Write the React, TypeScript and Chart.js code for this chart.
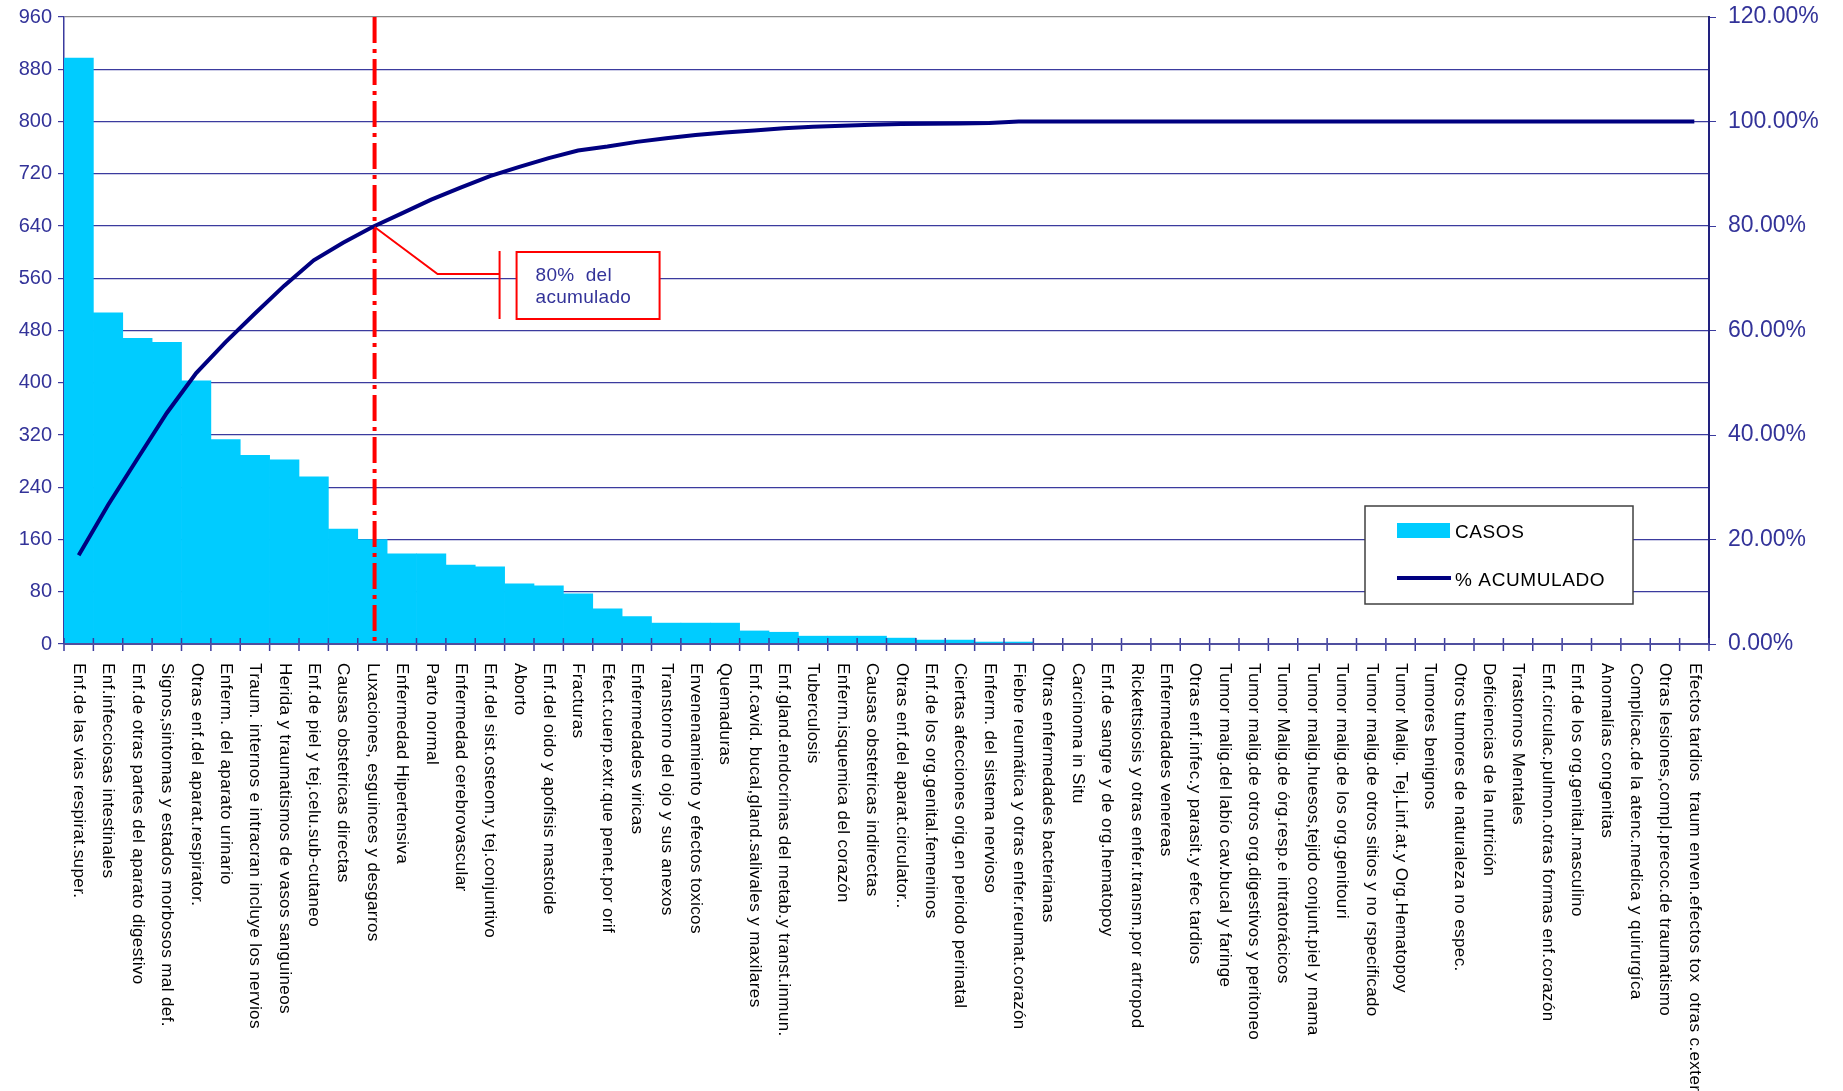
import { useEffect, useRef } from 'react';
import { Chart, registerables } from 'chart.js';

Chart.register(...registerables);

const categories: string[] = [
  'Enf.de las vias respirat.super.',
  'Enf.infecciosas intestinales',
  'Enf.de otras partes del aparato digestivo',
  'Signos,sintomas y estados morbosos mal def.',
  'Otras enf.del aparat.respirator.',
  'Enferm. del aparato urinario',
  'Traum. internos e intracran incluye los nervios',
  'Herida y traumatismos de vasos sanguineos',
  'Enf.de piel y tej.celu.sub-cutaneo',
  'Causas obstetricas directas',
  'Luxaciones, esguinces y desgarros',
  'Enfermedad Hipertensiva',
  'Parto normal',
  'Enfermedad cerebrovascular',
  'Enf.del sist.osteom.y tej.conjuntivo',
  'Aborto',
  'Enf.del oido y apofisis mastoide',
  'Fracturas',
  'Efect.cuerp.extr.que penet.por orif',
  'Enfermedades viricas',
  'Transtorno del ojo y sus anexos',
  'Envenenamiento y efectos toxicos',
  'Quemaduras',
  'Enf.cavid. bucal,gland.salivales y maxilares',
  'Enf.gland.endocrinas del metab.y transt.inmun.',
  'Tuberculosis',
  'Enferm.isquemica del corazón',
  'Causas obstetricas indirectas',
  'Otras enf.del aparat.circulator..',
  'Enf.de los org.genital.femeninos',
  'Ciertas afecciones orig.en periodo perinatal',
  'Enferm. del sistema nervioso',
  'Fiebre reumática y otras enfer.reumat.corazón',
  'Otras enfermedades bacterianas',
  'Carcinoma in Situ',
  'Enf.de sangre y de org.hematopoy',
  'Rickettsiosis y otras enfer.transm.por artropod',
  'Enfermedades venereas',
  'Otras enf.infec.y parasit.y efec tardios',
  'Tumor malig.del labío cav.bucal y faringe',
  'Tumor malig.de otros org.digestivos y peritoneo',
  'Tumor Malig.de órg.resp.e intratorácicos',
  'Tumor malig.huesos,tejido conjunt.piel y mama',
  'Tumor malig.de los org.genitouri',
  'Tumor malig.de otros sitios y no rspecificado',
  'Tumor Malig. Tej.Linf.at.y Org.Hematopoy',
  'Tumores benignos',
  'Otros tumores de naturaleza no espec.',
  'Deficiencias de la nutrición',
  'Trastornos Mentales',
  'Enf.circulac.pulmon.otras formas enf.corazón',
  'Enf.de los org.genital.masculino',
  'Anomalías congenitas',
  'Complicac.de la atenc.medica y quirurgíca',
  'Otras lesiones,compl.precoc.de traumatismo',
  'Efectos tardios  traum enven.efectos tox  otras c.exter',
];

const casos: number[] = [
  897, 507, 468, 462, 403, 313, 289, 282, 256, 176,
  160, 138, 138, 121, 118, 92, 89, 77, 54, 42,
  32, 32, 32, 20, 18, 12, 12, 12, 9, 6,
  6, 3, 3, 0, 0, 0, 0, 0, 0, 0,
  0, 0, 0, 0, 0, 0, 0, 0, 0, 0,
  0, 0, 0, 0, 0, 0,
];

const acumulado: number[] = [
  16.99, 26.6, 35.46, 44.21, 51.85, 57.78, 63.25, 68.59, 73.44, 76.78,
  79.81, 82.42, 85.04, 87.33, 89.56, 91.31, 92.99, 94.45, 95.2, 96.1,
  96.8, 97.4, 97.9, 98.3, 98.7, 99.0, 99.2, 99.4, 99.5, 99.55,
  99.6, 99.7, 100, 100, 100, 100, 100, 100, 100, 100,
  100, 100, 100, 100, 100, 100, 100, 100, 100, 100,
  100, 100, 100, 100, 100, 100,
];

const casosAxis = { min: 0, max: 960, step: 80 };
const pctAxis = { min: 0, max: 120, step: 20 };
const paretoThreshold = 80;
const calloutText = ['80%  del', 'acumulado'];
const seriesNames = ['CASOS', '% ACUMULADO'];

const FONT = '"Liberation Sans", Arial, Helvetica, sans-serif';
const BAR_COLOR = '#00CCFF';
const LINE_COLOR = '#000080';
const AXIS_TEXT = '#333399';
const GRID_COLOR = '#3B3B9E';

function thresholdPosition(): number {
  for (let i = 0; i < acumulado.length; i++) {
    if (acumulado[i] >= paretoThreshold) {
      if (i === 0) return 0;
      const prev = acumulado[i - 1];
      return i - 1 + (paretoThreshold - prev) / (acumulado[i] - prev);
    }
  }
  return acumulado.length - 1;
}

const overlayPlugin = {
  id: 'paretoOverlay',
  afterDatasetDraw(chart: any, args: any) {
    if (args.meta.type !== 'bar') return;
    const ctx = chart.ctx as CanvasRenderingContext2D;
    const x = chart.scales.x;
    const area = chart.chartArea;
    ctx.save();
    ctx.strokeStyle = GRID_COLOR;
    ctx.lineWidth = 1.5;
    ctx.beginPath();
    for (let i = 0; i <= categories.length; i++) {
      const px = x.getPixelForValue(i - 0.5);
      ctx.moveTo(px, area.bottom - 6);
      ctx.lineTo(px, area.bottom + 7);
    }
    ctx.stroke();
    ctx.strokeStyle = '#4F4F9F';
    ctx.lineWidth = 2;
    ctx.beginPath();
    ctx.moveTo(area.left, area.bottom);
    ctx.lineTo(area.right, area.bottom);
    ctx.stroke();
    const cx = x.getPixelForValue(thresholdPosition());
    ctx.strokeStyle = '#FF0000';
    ctx.lineWidth = 4;
    ctx.setLineDash([26, 6, 4, 6]);
    ctx.beginPath();
    ctx.moveTo(cx, area.top);
    ctx.lineTo(cx, area.bottom);
    ctx.stroke();
    ctx.restore();
  },
  afterDraw(chart: any) {
    const ctx = chart.ctx as CanvasRenderingContext2D;
    const x = chart.scales.x;
    const y1 = chart.scales.y1;
    const area = chart.chartArea;

    ctx.save();
    ctx.font = `17px ${FONT}`;
    (ctx as any).letterSpacing = '0.4px';
    ctx.fillStyle = '#000000';
    ctx.textAlign = 'left';
    ctx.textBaseline = 'middle';
    categories.forEach((label, i) => {
      const px = x.getPixelForValue(i);
      ctx.save();
      ctx.translate(px, area.bottom + 19);
      ctx.rotate(Math.PI / 2);
      ctx.fillText(label, 0, 0);
      ctx.restore();
    });
    ctx.restore();

    const ax = x.getPixelForValue(thresholdPosition());
    const ay = y1.getPixelForValue(paretoThreshold);
    ctx.save();
    ctx.strokeStyle = '#FF0000';
    ctx.lineWidth = 2;
    ctx.beginPath();
    ctx.moveTo(ax, ay + 1);
    ctx.lineTo(ax + 63, ay + 48);
    ctx.lineTo(ax + 125, ay + 48);
    ctx.stroke();
    ctx.beginPath();
    ctx.moveTo(ax + 125, ay + 25);
    ctx.lineTo(ax + 125, ay + 93);
    ctx.stroke();
    ctx.fillStyle = '#FFFFFF';
    ctx.fillRect(ax + 142, ay + 26, 143, 67);
    ctx.strokeRect(ax + 142, ay + 26, 143, 67);
    ctx.fillStyle = AXIS_TEXT;
    ctx.font = `19px ${FONT}`;
    (ctx as any).letterSpacing = '0.3px';
    ctx.textAlign = 'left';
    ctx.textBaseline = 'alphabetic';
    ctx.fillText(calloutText[0], ax + 161, ay + 55);
    ctx.fillText(calloutText[1], ax + 161, ay + 77);
    ctx.restore();

    const lx = area.right - 344;
    const ly = area.bottom - 138;
    ctx.save();
    ctx.fillStyle = '#FFFFFF';
    ctx.fillRect(lx, ly, 268, 98);
    ctx.strokeStyle = '#404040';
    ctx.lineWidth = 1.5;
    ctx.strokeRect(lx, ly, 268, 98);
    ctx.fillStyle = BAR_COLOR;
    ctx.fillRect(lx + 32, ly + 17, 53, 15);
    ctx.strokeStyle = LINE_COLOR;
    ctx.lineWidth = 4;
    ctx.beginPath();
    ctx.moveTo(lx + 32, ly + 72);
    ctx.lineTo(lx + 86, ly + 72);
    ctx.stroke();
    ctx.fillStyle = '#000000';
    ctx.font = `19px ${FONT}`;
    (ctx as any).letterSpacing = '0.6px';
    ctx.textBaseline = 'alphabetic';
    ctx.fillText(seriesNames[0], lx + 90, ly + 32);
    ctx.fillText(seriesNames[1], lx + 90, ly + 80);
    ctx.restore();
  },
};

export default function App() {
  const canvasRef = useRef<HTMLCanvasElement | null>(null);

  useEffect(() => {
    const canvas = canvasRef.current;
    if (!canvas) return;
    const chart = new Chart(canvas, {
      type: 'bar',
      data: {
        labels: categories,
        datasets: [
          {
            type: 'bar',
            label: seriesNames[0],
            data: casos,
            backgroundColor: BAR_COLOR,
            borderWidth: 0,
            barPercentage: 1,
            categoryPercentage: 1,
            yAxisID: 'y',
            order: 2,
          },
          {
            type: 'line',
            label: seriesNames[1],
            data: acumulado,
            borderColor: LINE_COLOR,
            backgroundColor: LINE_COLOR,
            borderWidth: 4,
            pointRadius: 0,
            tension: 0,
            yAxisID: 'y1',
            order: 1,
          },
        ],
      },
      options: {
        animation: false,
        responsive: false,
        devicePixelRatio: 1,
        layout: { padding: { top: 17, left: 0, right: 0, bottom: 0 } },
        plugins: {
          legend: { display: false },
          tooltip: { enabled: false },
        },
        scales: {
          x: {
            type: 'category',
            offset: true,
            grid: { display: false, offset: true },
            border: { display: false },
            ticks: { display: false },
            afterFit: (scale: any) => {
              scale.height = 447;
              scale.paddingLeft = 0;
              scale.paddingRight = 0;
            },
          },
          y: {
            position: 'left',
            min: casosAxis.min,
            max: casosAxis.max,
            ticks: {
              stepSize: casosAxis.step,
              color: AXIS_TEXT,
              font: { family: FONT, size: 20 },
              padding: 6,
            },
            grid: {
              color: (c: any) => (c.tick && c.tick.value === casosAxis.max ? '#8C8C8C' : GRID_COLOR),
              tickColor: GRID_COLOR,
              tickLength: 6,
              lineWidth: 1.2,
            },
            border: { display: true, color: GRID_COLOR, width: 1.5 },
            afterFit: (scale: any) => {
              scale.width = 64;
              scale.paddingTop = 0;
              scale.paddingBottom = 0;
            },
          },
          y1: {
            position: 'right',
            min: pctAxis.min,
            max: pctAxis.max,
            ticks: {
              stepSize: pctAxis.step,
              color: AXIS_TEXT,
              font: { family: FONT, size: 23 },
              padding: 12,
              callback: (v: any) => Number(v).toFixed(2) + '%',
            },
            grid: {
              drawOnChartArea: false,
              color: GRID_COLOR,
              tickColor: GRID_COLOR,
              tickLength: 7,
            },
            border: { display: true, color: '#22227F', width: 2 },
            afterFit: (scale: any) => {
              scale.width = 134;
              scale.paddingTop = 0;
              scale.paddingBottom = 0;
            },
          },
        },
      },
      plugins: [overlayPlugin],
    });
    return () => chart.destroy();
  }, []);

  return (
    <div style={{ position: 'fixed', left: 0, top: 0, width: 1843, height: 1091, background: '#FFFFFF' }}>
      <canvas ref={canvasRef} width={1843} height={1091} style={{ display: 'block', width: 1843, height: 1091 }} />
    </div>
  );
}
